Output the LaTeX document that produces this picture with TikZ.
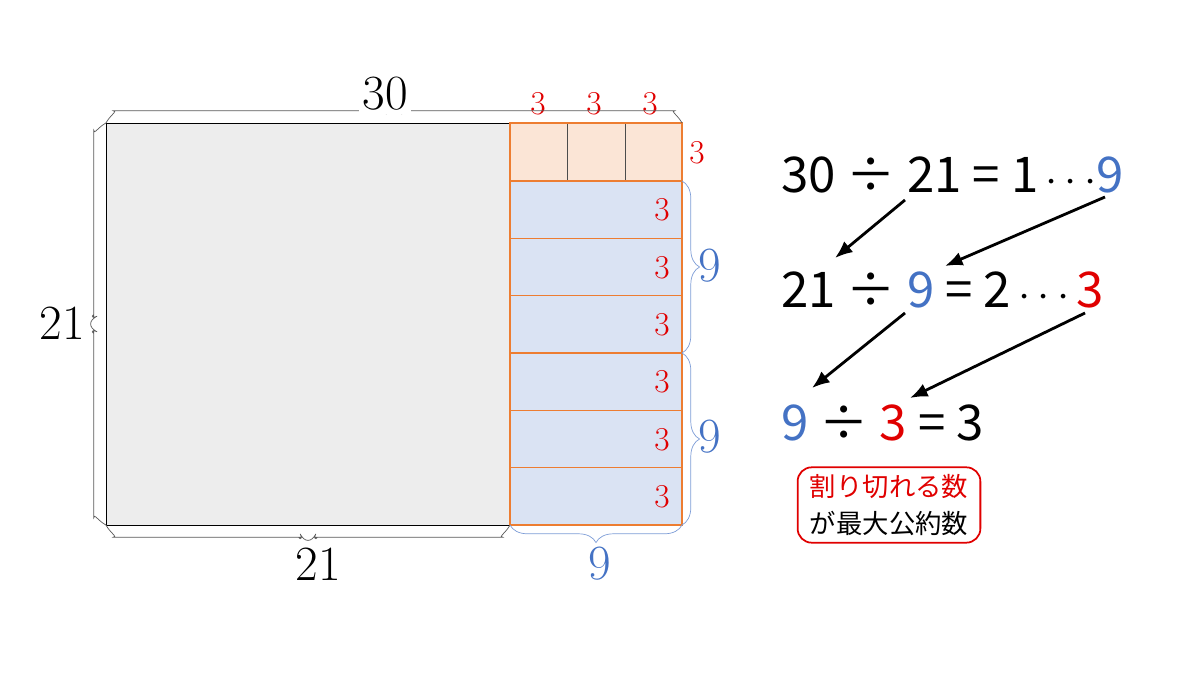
\documentclass[tikz,border=0pt]{standalone}
\usepackage{fontspec}
\newfontfamily\jp{Noto Sans CJK JP}
\usetikzlibrary{decorations.pathreplacing,arrows.meta}
\definecolor{bl}{HTML}{4472C4}
\definecolor{rd}{HTML}{E00000}
\definecolor{og}{HTML}{ED7D31}
\definecolor{ogf}{HTML}{FBE5D6}
\definecolor{blf}{HTML}{DAE3F3}
\definecolor{gyf}{HTML}{EDEDED}
\begin{document}
\begin{tikzpicture}[x=0.02cm,y=-0.02cm,
  cell/.style={draw=og,line width=0.8pt},
  br/.style={decorate,decoration={brace,amplitude=14pt},draw=gray!70!black,thin,rounded corners=10pt},
  brb/.style={decorate,decoration={brace,amplitude=10pt},draw=bl!70,thin},
  sm/.style={text=rd,font=\fontsize{19}{19}\selectfont},
  big/.style={font=\fontsize{28}{28}\selectfont},
  eq/.style={font=\jp\fontsize{28}{28}\selectfont,anchor=west},
  arr/.style={-{Latex[length=10pt,width=8pt]},line width=1.6pt}]
\useasboundingbox (0,0) rectangle (1200,675);
\draw[fill=gyf] (106,123) rectangle (510,525);
\draw[cell,fill=ogf] (510,123) rectangle (682,181);
\draw[black!70] (567,123)--(567,181) (625,123)--(625,181);
\foreach \i in {0,...,5}{
  \draw[cell,fill=blf] (510,{181+\i*57.33}) rectangle (682,{181+(\i+1)*57.33});
  \node[sm] (s\i) at (662,{210+\i*57.33}) {3};}
\draw[cell] (510,123) rectangle (682,181);
\node[sm] (t1) at (538,104) {3};
\node[sm] (t2) at (594,104) {3};
\node[sm] (t3) at (650,104) {3};
\node[sm] (t4) at (697,153) {3};
\draw[br] (106,123) -- (682,123);
\node[big,fill=white,inner sep=2pt] (l30) at (385,94) {30};
\draw[br] (106,525) -- (106,123);
\node[big] (l21a) at (62,323) {21};
\draw[br] (510,525) -- (106,525);
\node[big] (l21b) at (318,564) {21};
\draw[brb] (682,525) -- (510,525);
\node[big,text=bl] (l9b) at (600,564) {9};
\draw[brb] (682,181) -- (682,353);
\draw[brb] (682,353) -- (682,525);
\node[big,text=bl] (l9r1) at (710,266) {9};
\node[big,text=bl] (l9r2) at (710,437) {9};
\node[eq] (e1) at (775,175) {30 ÷ 21 = 1$\,\cdots$\textcolor{bl}{9}};
\node[eq] (e2) at (775,290) {21 ÷ \textcolor{bl}{9} = 2$\,\cdots\,$\textcolor{rd}{3}};
\node[eq] (e3) at (775,423) {\textcolor{bl}{9} ÷ \textcolor{rd}{3} = 3};
\coordinate (a1) at (905,200); \coordinate (b1) at (835,258);
\coordinate (a2) at (1105,197); \coordinate (b2) at (945,266);
\coordinate (a3) at (905,313); \coordinate (b3) at (812,388);
\coordinate (a4) at (1085,313); \coordinate (b4) at (910,398);
\draw[arr] (a1)--(b1); \draw[arr] (a2)--(b2);
\draw[arr] (a3)--(b3); \draw[arr] (a4)--(b4);
\node[draw=rd,rounded corners=8pt,line width=1pt,align=center,inner xsep=7pt,inner ysep=4pt,
  font=\jp\fontsize{15}{21}\selectfont] (box) at (889,505)
  {\textcolor{rd}{割り切れる数}\\が最大公約数};
\end{tikzpicture}
\end{document}
